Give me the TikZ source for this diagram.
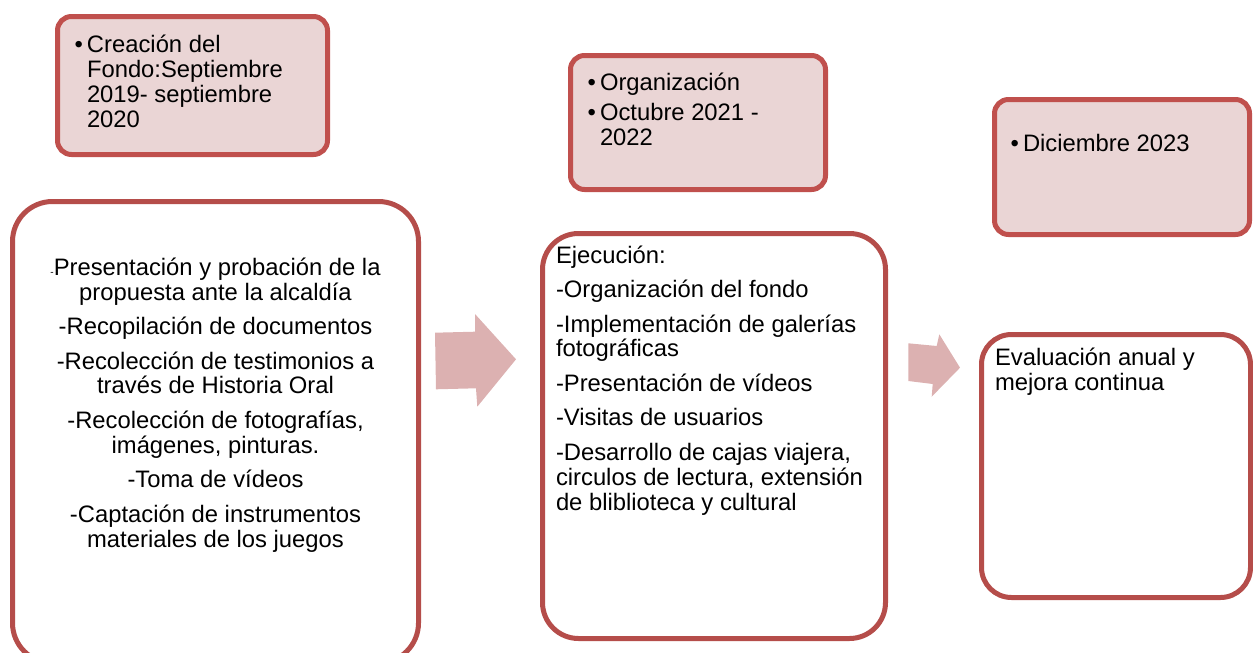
\documentclass[tikz,border=0pt]{standalone}
\usepackage{fontspec}
\setmainfont{Liberation Sans}
\definecolor{accent}{HTML}{C0504D}
\definecolor{accentdk}{HTML}{B54D4A}
\definecolor{pinkfill}{HTML}{EAD5D5}
\definecolor{arrowfill}{HTML}{DCB1B1}
\newcommand{\bul}{\llap{\textbullet\hspace{4pt}}}
\begin{document}
\begin{tikzpicture}[x=1pt,y=-1pt,
  pinkbox/.style={draw=accent,fill=pinkfill,line width=5pt,rounded corners=14pt,inner sep=0pt,outer sep=0pt},
  whitebox/.style={draw=accentdk,fill=white,line width=5pt,inner sep=0pt,outer sep=0pt},
  txt/.style={inner sep=0pt,outer sep=0pt,font=\fontsize{23.8}{24.8}\selectfont},
  blockarrow/.style={fill=arrowfill}]
\useasboundingbox (0,0) rectangle (1253,653);
% boxes
\node[pinkbox, minimum width=270pt, minimum height=138pt] (b1) at (192.5,85.5) {};
\node[whitebox, rounded corners=40pt, minimum width=406pt, minimum height=461.5pt] (b2) at (215.5,432.25) {};
\node[pinkbox, minimum width=255pt, minimum height=134pt] (b3) at (698,122.5) {};
\node[whitebox, rounded corners=36pt, minimum width=343pt, minimum height=405pt] (b4) at (714,436) {};
\node[pinkbox, minimum width=255pt, minimum height=135pt] (b5) at (1122,167) {};
\node[whitebox, rounded corners=30pt, minimum width=269pt, minimum height=263pt] (b6) at (1116,466) {};
% block arrows
\fill[blockarrow] (435,332.7) -- (475,331.7) -- (475,314) -- (516,359.3) -- (477.3,406.7) -- (476,388.3) -- (436,389.3) -- cycle;
\fill[blockarrow] (908.3,343.3) -- (936.7,346) -- (939.3,334.3) -- (960,367.7) -- (931.7,396.7) -- (932.7,384) -- (908.3,381) -- cycle;
% texts (anchored at the baseline of their last line)
\node[txt, anchor=base west, align=left] (t1) at (87,127)
  {\bul Creación del\\Fondo:Septiembre\\2019- septiembre\\2020};
\node[txt, anchor=base, align=center] (t2) at (215.5,547)
  {{\fontsize{10}{10}\selectfont -}Presentación y probación de la\\propuesta ante la alcaldía\\[9.7pt]
   -Recopilación de documentos\\[9.7pt]
   -Recolección de testimonios a\\través de Historia Oral\\[9.7pt]
   -Recolección de fotografías,\\imágenes, pinturas.\\[9.7pt]
   -Toma de vídeos\\[9.7pt]
   -Captación de instrumentos\\materiales de los juegos};
\node[txt, anchor=base west, align=left] (t3) at (600,145)
  {\bul Organización\\[5pt]\bul Octubre 2021 -\\2022};
\node[txt, anchor=base west, align=left] (t4) at (556,510)
  {Ejecución:\\[9.7pt]
   -Organización del fondo\\[9.7pt]
   -Implementación de galerías\\fotográficas\\[9.7pt]
   -Presentación de vídeos\\[9.7pt]
   -Visitas de usuarios\\[9.7pt]
   -Desarrollo de cajas viajera,\\circulos de lectura, extensión\\de bliblioteca y cultural};
\node[txt, anchor=base west] (t5) at (1023,151.7) {\bul Diciembre 2023};
\node[txt, anchor=base west, align=left] (t6) at (995,390)
  {Evaluación anual y\\mejora continua};
\end{tikzpicture}
\end{document}
